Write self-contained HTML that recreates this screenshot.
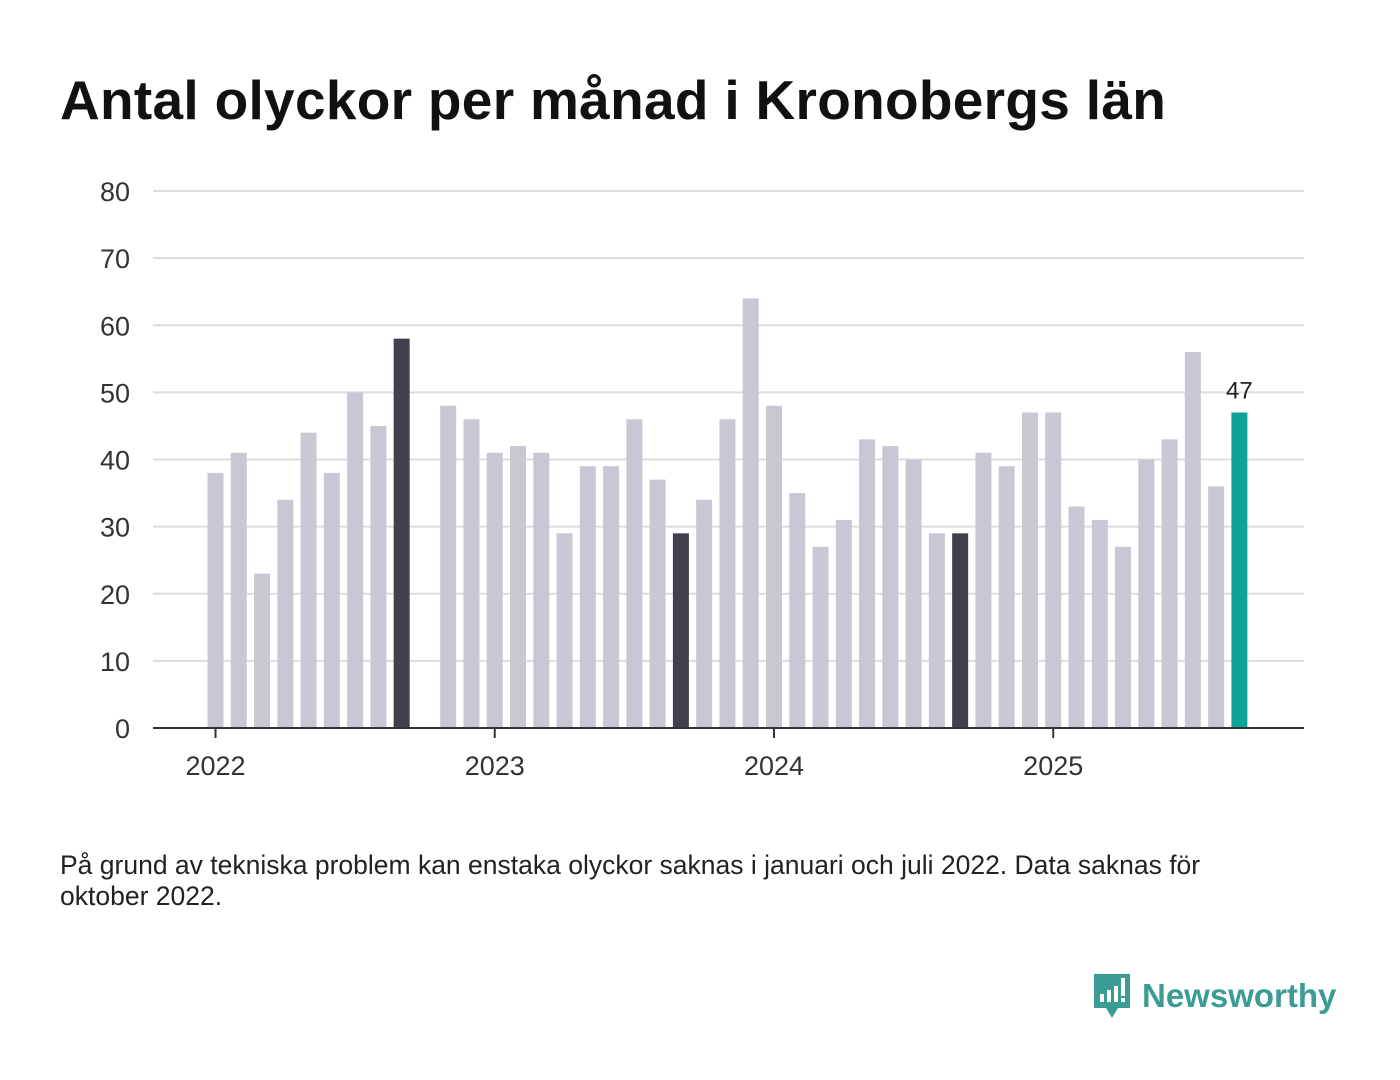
<!DOCTYPE html>
<html><head><meta charset="utf-8"><style>
body{margin:0;width:1400px;height:1080px;background:#fff;font-family:"Liberation Sans",sans-serif;overflow:hidden;position:relative}
h1{position:absolute;left:60px;top:68px;margin:0;font-size:55px;font-weight:bold;color:#111;letter-spacing:0.3px}
.note{position:absolute;left:60px;top:850px;font-size:26.5px;color:#222;line-height:31px;width:1230px}
.logo{position:absolute;left:1092px;top:972px;display:flex;align-items:center}
.logo span{font-size:33px;font-weight:bold;color:#3a9c93;margin-left:10px}
</style></head><body>
<h1>Antal olyckor per månad i Kronobergs län</h1>
<svg id="chart" width="1400" height="820" style="position:absolute;left:0;top:0"></svg>
<div class="note">På grund av tekniska problem kan enstaka olyckor saknas i januari och juli 2022. Data saknas för oktober 2022.</div>
<div class="logo">
<svg width="40" height="48" viewBox="0 0 40 48"><path d="M2 2h36v34H26l-6 10-6-10H2z" fill="#3a9c93"/><rect x="8" y="22" width="4" height="8" fill="#fff"/><rect x="15" y="18" width="4" height="12" fill="#fff"/><rect x="22" y="14" width="4" height="16" fill="#fff"/><rect x="29" y="6" width="4" height="18" fill="#fff"/><rect x="29" y="26" width="4" height="4" fill="#fff"/></svg>
<span>Newsworthy</span></div>
<script>
const monthIdx=[0,1,2,3,4,5,6,7,8,10,11,12,13,14,15,16,17,18,19,20,21,22,23,24,25,26,27,28,29,30,31,32,33,34,35,36,37,38,39,40,41,42,43,44];
const values=[38,41,23,34,44,38,50,45,58,48,46,41,42,41,29,39,39,46,37,29,34,46,64,48,35,27,31,43,42,40,29,29,41,39,47,47,33,31,27,40,43,56,36,47];
const highlight=[8,20,32];
const yTicks=[0,10,20,30,40,50,60,70,80];
const years=["2022","2023","2024","2025"];
const NS="http://www.w3.org/2000/svg";
const svg=document.getElementById('chart');
const y=v=>728-v*(537/80);
const x=i=>215.5+i*23.27;
function mk(t,a){const e=document.createElementNS(NS,t);for(const k in a)e.setAttribute(k,a[k]);svg.appendChild(e);return e;}
yTicks.forEach(t=>{
 if(t>0){const l=mk('line',{x1:153,x2:1304,y1:y(t),y2:y(t),stroke:'#ddd','stroke-width':2});
 
 }
 const tx=mk('text',{x:130,y:y(t)+10,'text-anchor':'end','font-size':27,fill:'#333','font-family':'Liberation Sans'});
 tx.textContent=t;
 
 
});
values.forEach((v,k)=>{
 const i=monthIdx[k];
 const last=k===values.length-1;
 const col=last?'#0fa397':(highlight.includes(i)?'#41404d':'#c8c7d3');
 const r=mk('rect',{x:x(i)-8,y:y(v),width:16,height:728-y(v),fill:col});
 
 
 if(last){const t=mk('text',{x:x(i),y:y(v)-14,'text-anchor':'middle','font-size':24,fill:'#222','font-family':'Liberation Sans'});
 t.textContent=v;
 
 }
});
const ax=mk('line',{x1:153,x2:1304,y1:728,y2:728,stroke:'#333','stroke-width':2});


years.forEach((yr,j)=>{
 const tk=mk('line',{x1:x(j*12),x2:x(j*12),y1:728,y2:738,stroke:'#333','stroke-width':2});
 
 
 const t=mk('text',{x:x(j*12),y:775,'text-anchor':'middle','font-size':27,fill:'#333','font-family':'Liberation Sans'});
 t.textContent=yr;
 
 
});
</script>
</body></html>
